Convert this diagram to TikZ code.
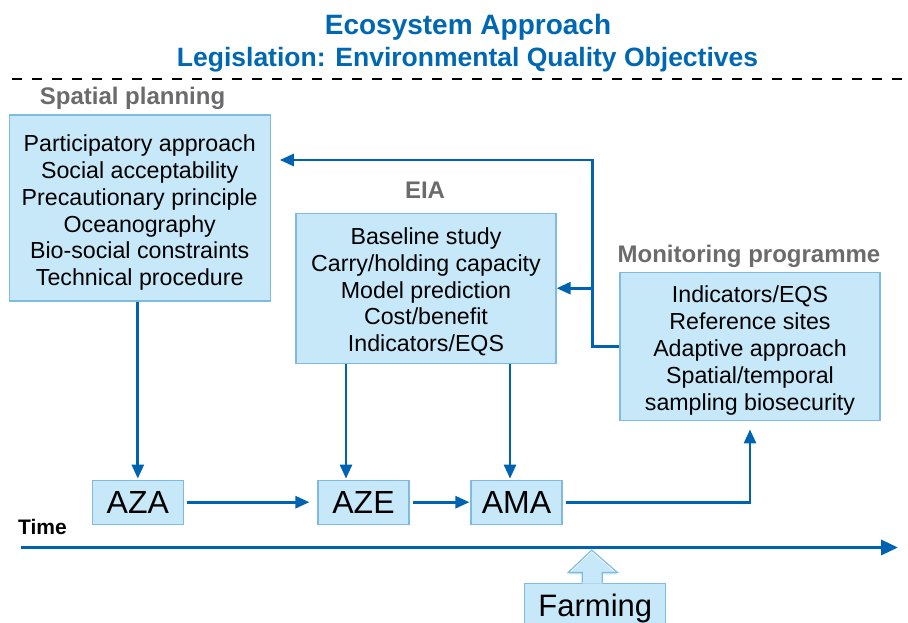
\documentclass[tikz,border=0pt]{standalone}
\usepackage{fontspec}
\setmainfont{Liberation Sans}
\usetikzlibrary{arrows.meta}
\definecolor{lineblue}{HTML}{0063B1}
\definecolor{titleblue}{HTML}{0068B3}
\definecolor{boxfill}{HTML}{C6E8F9}
\definecolor{boxline}{HTML}{7FBBE0}
\definecolor{labelgray}{HTML}{6B6B6D}
\newcommand{\topstrut}[1]{\rule{0pt}{#1}}
\begin{document}
\begin{tikzpicture}[x=1pt,y=-1pt,
  box/.style={draw=boxline, fill=boxfill, line width=1.2pt, inner sep=0pt,
    align=center, font=\fontsize{23.2}{26.9}\selectfont},
  smallbox/.style={draw=boxline, fill=boxfill, line width=1.2pt, inner sep=0pt,
    minimum width=91pt, minimum height=44pt, font=\fontsize{32}{32}\selectfont},
  lbl/.style={anchor=base, inner sep=0pt, text=labelgray, font=\bfseries\fontsize{24}{26}\selectfont},
  ttl/.style={anchor=base, inner sep=0pt, text=titleblue},
  conn/.style={draw=lineblue, line width=2.7pt, -{Triangle[length=14pt,width=12pt]}},
  axisline/.style={draw=lineblue, line width=3.4pt, -{Triangle[length=17pt,width=15pt]}},
  sepline/.style={draw=black, line width=2.8pt, dash pattern=on 10pt off 10pt}
]
\useasboundingbox (0,0) rectangle (908,623);
\clip (0,0) rectangle (908,623);

% titles
\node[ttl, font=\bfseries\fontsize{28}{30}\selectfont] (title1) at (468,34.3) {Ecosystem Approach};
\node[ttl, font=\bfseries\fontsize{26.5}{28}\selectfont] (title2) at (467.5,66.7) {Legislation: Environmental Quality Objectives};

% separator
\coordinate (dl) at (12,79);
\coordinate (dr) at (912,79);
\draw[sepline] (dl) -- (dr);

% labels
\node[lbl] (lsp) at (132.5,104.5) {Spatial planning};
\node[lbl] (leia) at (425,198.5) {EIA};
\node[lbl] (lmon) at (749,262) {Monitoring programme};

% big boxes
\node[box, minimum width=261pt, minimum height=186pt] (sp) at (139.7,208)
  {\topstrut{26pt}Participatory approach\\Social acceptability\\Precautionary principle\\Oceanography\\Bio-social constraints\\Technical procedure};
\node[box, minimum width=260pt, minimum height=150pt] (eia) at (426,288.2)
  {\topstrut{24pt}Baseline study\\Carry/holding capacity\\Model prediction\\Cost/benefit\\Indicators/EQS};
\node[box, minimum width=260pt, minimum height=148pt] (mon) at (750,346.8)
  {\topstrut{24pt}Indicators/EQS\\Reference sites\\Adaptive approach\\Spatial/temporal\\sampling biosecurity};

% small boxes
\node[smallbox] (aza) at (137.8,502.2) {AZA};
\node[smallbox] (aze) at (363.5,502.2) {AZE};
\node[smallbox] (ama) at (516.5,502.2) {AMA};

% vertical connectors
\draw[conn, shorten >=1pt] (aza.north |- sp.south) -- (aza.north);
\draw[conn, shorten >=1pt] ([xshift=-80pt]eia.south) -- ([xshift=-80pt]eia.south |- aze.north);
\draw[conn, shorten >=1pt] ([xshift=84pt]eia.south) -- ([xshift=84pt]eia.south |- ama.north);

% horizontal chain
\draw[conn, shorten <=3pt, shorten >=8pt] (aza.east) -- (aze.west);
\draw[conn, shorten <=3pt, shorten >=1pt] (aze.east) -- (ama.west);
\draw[conn, shorten <=3pt, shorten >=8pt] (ama.east) -| (mon.south);

% feedback
\coordinate (fb) at (592.7,160);
\draw[conn, shorten >=9pt] (mon.west) -| (fb) -- (fb -| sp.east);
\draw[conn] (fb |- eia.east) -- (eia.east);

% time axis
\node[anchor=base west, inner sep=0pt, font=\bfseries\fontsize{21}{22}\selectfont] (time) at (18,534.3) {Time};
\coordinate (t0) at (21,547.5);
\coordinate (t1) at (898,547.5);
\draw[axisline] (t0) -- (t1);

% farming
\node[smallbox, minimum width=141pt, minimum height=50pt, anchor=north, font=\fontsize{31}{32}\selectfont] (farm) at (595.3,582.7) {Farming};
\fill[boxfill] ([xshift=-13pt,yshift=-1pt]farm.north) -- ++(0,-9.3) -- ++(-14,0) -- ++(23.4,-22.3)
  -- ++(25.6,22.3) -- ++(-15,0) -- ++(0,9.3) -- cycle;
\draw[boxline, line width=1.2pt, line join=miter] ([xshift=-13pt]farm.north) -- ++(0,-10.3) -- ++(-14,0) -- ++(23.4,-22.3)
  -- ++(25.6,22.3) -- ++(-15,0) -- ++(0,10.3);
\end{tikzpicture}
\end{document}
